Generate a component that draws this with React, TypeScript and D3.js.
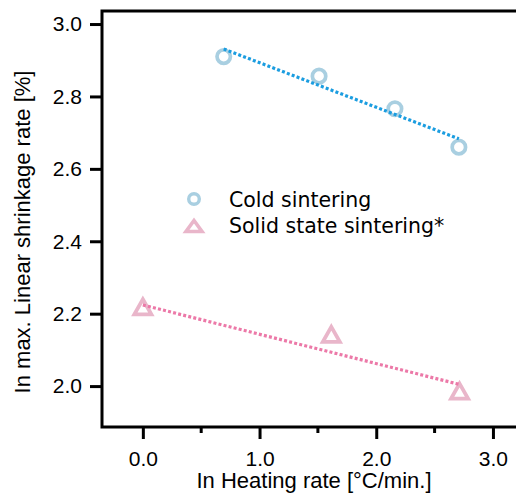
import React, { useRef, useEffect } from "react";
import * as d3 from "d3";

// cold sintering (ln heating rate, ln max linear shrinkage rate)
const coldX = [0.693, 1.51, 2.16, 2.708];
const coldY = [2.91, 2.856, 2.766, 2.66];
const coldFitX = [0.693, 2.708];
const coldFitY = [2.931, 2.683];

// solid state sintering
const solidX = [0.0, 1.615, 2.714];
const solidY = [2.219, 2.143, 1.986];
const solidFitX = [0.0, 2.708];
const solidFitY = [2.224, 2.005];

const xTicks = [0, 1, 2, 3];
const xMinorTicks = [0.5, 1.5, 2.5];
const yTicks = [2.0, 2.2, 2.4, 2.6, 2.8, 3.0];

const legendLabels = ["Cold sintering", "Solid state sintering*"];

const W = 516;
const H = 501;

const circleColor = "#a9cfe1";
const triColor = "#e9b6ca";
const blueLine = "#1b9de0";
const pinkLine = "#ec79a8";

const triPath = (w: number, h: number) =>
  `M0,${-h / 2}L${w / 2},${h / 2}L${-w / 2},${h / 2}Z`;

function Chart() {
  const svgRef = useRef<SVGSVGElement>(null);

  useEffect(() => {
    const svg = d3.select(svgRef.current);
    svg.selectAll("*").remove();

    const x = d3.scaleLinear().domain([-0.35, 3.25]).range([102, 102 + 3.6 * 116.7]);
    const y = d3.scaleLinear().domain([1.887, 3.036]).range([427, 11]);

    const font = "'Liberation Sans', Arial, Helvetica, sans-serif";

    // x axis
    const gx = svg.append("g").attr("transform", `translate(0,${y.range()[0]})`);
    gx.call(
      d3.axisBottom(x).tickValues(xTicks).tickSize(12).tickPadding(12).tickSizeOuter(0)
        .tickFormat(d3.format(".1f"))
    );
    gx.select(".domain").remove();
    gx.selectAll(".tick line").attr("stroke", "#000").attr("stroke-width", 3);
    gx.selectAll(".tick text").attr("font-size", 21).attr("font-family", font).attr("fill", "#000");
    gx.selectAll(".minor")
      .data(xMinorTicks)
      .join("line")
      .attr("class", "minor")
      .attr("x1", d => x(d)).attr("x2", d => x(d))
      .attr("y1", 0).attr("y2", 6)
      .attr("stroke", "#000").attr("stroke-width", 3);

    // y axis
    const gy = svg.append("g").attr("transform", `translate(${x.range()[0]},0)`);
    gy.call(
      d3.axisLeft(y).tickValues(yTicks).tickSize(12).tickPadding(8).tickSizeOuter(0)
        .tickFormat(d3.format(".1f"))
    );
    gy.select(".domain").remove();
    gy.selectAll(".tick line").attr("stroke", "#000").attr("stroke-width", 3);
    gy.selectAll(".tick text").attr("font-size", 21).attr("font-family", font).attr("fill", "#000");

    // spines (left, top, bottom)
    const [x0, x1] = [x.range()[0], W + 10];
    const [yb, yt] = y.range();
    svg.append("path")
      .attr("d", `M${x0},${yb}V${yt}H${x1}M${x0 - 1.5},${yb}H${x1}`)
      .attr("fill", "none").attr("stroke", "#000").attr("stroke-width", 3);

    // axis labels
    svg.append("text")
      .attr("x", 314).attr("y", 488)
      .attr("text-anchor", "middle")
      .attr("font-size", 22).attr("font-family", font)
      .text("In Heating rate [°C/min.]");
    svg.append("text")
      .attr("transform", `translate(30,232) rotate(-90)`)
      .attr("text-anchor", "middle")
      .attr("font-size", 22).attr("font-family", font)
      .text("In max. Linear shrinkage rate [%]");

    // fit lines
    const line = d3.line<number>().x((d, i) => x(d)).y(() => 0);
    const fit = (xs: number[], ys: number[], color: string) => {
      const l = d3.line<number>().x(d => x(xs[d])).y(d => y(ys[d]));
      svg.append("path")
        .attr("d", l(d3.range(xs.length)))
        .attr("fill", "none")
        .attr("stroke", color)
        .attr("stroke-width", 3.2)
        .attr("stroke-dasharray", "3,2.2");
    };
    void line;

    // markers
    svg.append("g").selectAll("circle")
      .data(coldX)
      .join("circle")
      .attr("cx", d => x(d))
      .attr("cy", (d, i) => y(coldY[i]))
      .attr("r", 6.7)
      .attr("fill", "none")
      .attr("stroke", circleColor)
      .attr("stroke-width", 3.7);

    svg.append("g").selectAll("path")
      .data(solidX)
      .join("path")
      .attr("transform", (d, i) => `translate(${x(d)},${y(solidY[i])})`)
      .attr("d", triPath(17, 15))
      .attr("fill", "none")
      .attr("stroke", triColor)
      .attr("stroke-width", 3.8);

    fit(coldFitX, coldFitY, blueLine);
    fit(solidFitX, solidFitY, pinkLine);

    // legend
    const legendFont = "'DejaVu Sans', sans-serif";
    const lg = svg.append("g");
    lg.append("circle")
      .attr("cx", 194).attr("cy", 199).attr("r", 5.3)
      .attr("fill", "none").attr("stroke", circleColor).attr("stroke-width", 3.4);
    lg.append("path")
      .attr("transform", "translate(194,226)")
      .attr("d", triPath(16, 11))
      .attr("fill", "none").attr("stroke", triColor).attr("stroke-width", 3.6);
    lg.selectAll("text")
      .data(legendLabels)
      .join("text")
      .attr("x", 229)
      .attr("y", (d, i) => 206.5 + i * 26.5)
      .attr("font-size", 20.5)
      .attr("font-family", legendFont)
      .attr("fill", "#000")
      .text(d => d);
  }, []);

  return (
    <svg
      ref={svgRef}
      width={W}
      height={H}
      style={{ position: "absolute", left: 0, top: 0, background: "#fff" }}
    />
  );
}

export default function App() {
  return <Chart />;
}
